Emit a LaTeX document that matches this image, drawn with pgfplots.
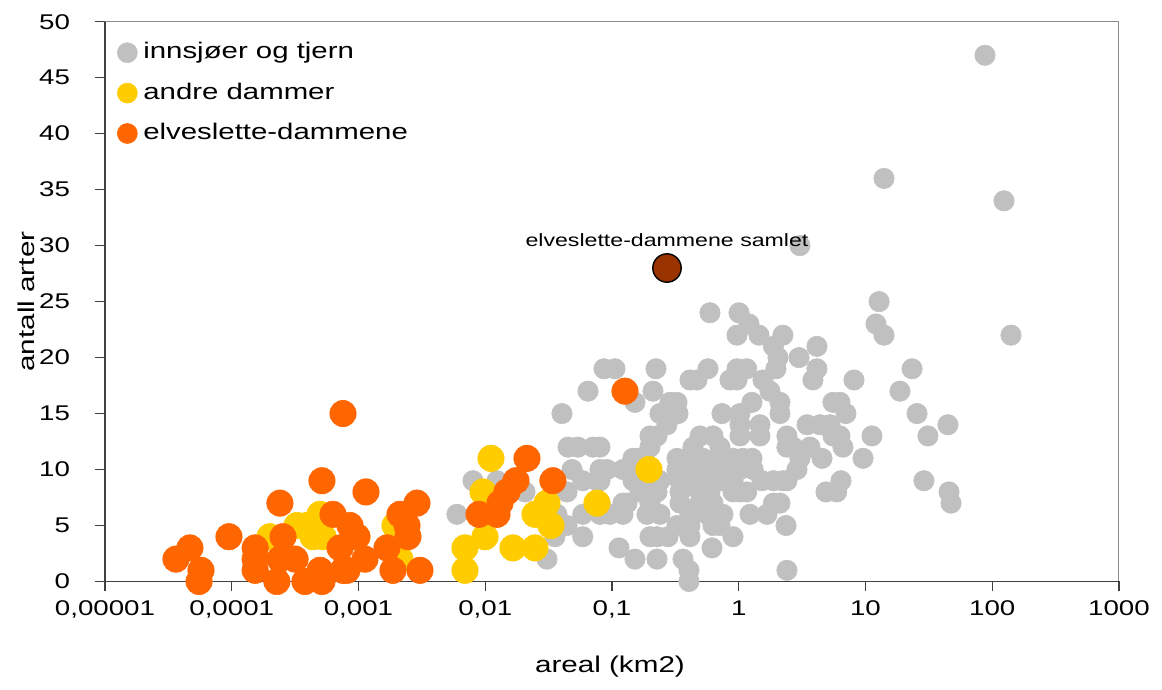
\documentclass[border=0pt]{standalone}
\usepackage{fontspec}
\setmainfont{Liberation Sans}[FakeStretch=1.3]
\usepackage{pgfplots}
\pgfplotsset{compat=1.18}
\definecolor{cgray}{HTML}{C0C0C0}
\definecolor{cyellow}{HTML}{FFCC00}
\definecolor{corange}{HTML}{FF6600}
\definecolor{cdred}{HTML}{993300}
\definecolor{axdark}{HTML}{404040}
\begin{document}
\begin{tikzpicture}
\begin{axis}[
  at={(0,0)}, anchor=south west,
  width=507pt, height=279.9pt, scale only axis,
  xmode=log, log basis x=10,
  xmin=1e-5, xmax=1000, ymin=0, ymax=50,
  xtick={1e-5,1e-4,1e-3,1e-2,1e-1,1,10,100,1000},
  xticklabels={{0,00001},{0,0001},{0,001},{0,01},{0,1},{1},{10},{100},{1000}},
  ytick={0,5,...,50},
  xminorticks=false, yminorticks=false,
  tick align=outside, major tick length=5pt,
  axis x line*=bottom, axis y line*=left,
  axis line style={axdark, line width=0.6pt},
  tick style={axdark, line width=0.6pt},
  clip=false,
  /pgf/number format/assume math mode=true,
  ticklabel style={font=\fontsize{10.65}{12}\selectfont},
  yticklabel style={xshift=-9pt},
  xticklabel style={yshift=-1pt},
  xlabel={areal (km2)}, ylabel={antall arter},
  xlabel style={at={(axis description cs:0.498,-0.152)}, anchor=center, font=\fontsize{11.4}{13}\selectfont},
  ylabel style={at={(axis description cs:-0.078,0.5)}, anchor=center, font=\fontsize{11.4}{13}\selectfont},
  legend cell align=left,
  legend image code/.code={\draw[#1, mark size=5pt] plot coordinates {(0pt,0pt)};},
  legend style={at={(axis description cs:0.0118,0.965)}, anchor=north west, draw=none, fill=none,
    inner sep=0pt, row sep=9.2pt,
    font=\fontsize{11.3}{13}\selectfont,
    nodes={inner xsep=3pt, inner ysep=0pt, text height=8.5pt, text depth=2.5pt},
    /tikz/every even column/.style={column sep=0pt}},
  after end axis/.code={\draw[black!45, line width=0.5pt] (rel axis cs:0,1) -- (rel axis cs:1,1) -- (rel axis cs:1,0);},
]
% innsjoer og tjern
\addplot[only marks, mark=*, mark size=5.1pt, mark options={draw=cgray, fill=cgray, line width=0.3pt}] coordinates {
(87.7,47) (14.0,36) (123.8,34) (140.6,22) (3.04,30) (12.8,25) (12.1,23) (14.0,22) (23.3,19) (18.7,17)
(25.5,15) (31.1,13) (44.7,14) (28.9,9) (45.6,8) (47.3,7) (8.11,18) (11.25,13) (9.56,11) (6.41,9)
(4.88,8) (5.93,8) (4.14,21) (2.99,20) (4.14,19) (3.85,18) (2.23,22) (5.54,16) (6.29,16) (7.01,15)
(3.46,14) (4.38,14) (5.25,14) (5.54,13) (6.64,12) (3.65,12) (4.54,11) (3.04,11) (2.88,10) (2.40,9)
(2.40,13) (2.40,12) (2.115,16) (2.115,15) (2.115,7) (2.36,5) (2.40,1) (6.29,13) (2.23,9) (2.69,12)
(0.593,24) (1.005,24) (1.204,23) (0.969,22) (1.445,22) (1.879,21) (2.04,20) (1.966,19) (1.554,18) (1.764,17)
(0.969,19) (1.156,19) (0.853,18) (0.969,18) (0.572,19) (0.4125,18) (0.468,18) (0.2224,19) (0.2106,17) (0.1518,16)
(0.0865,19) (0.1056,19) (0.3257,16) (0.2867,16) (0.239,15) (0.3317,15) (0.2716,14) (1.272,16) (0.7378,15) (1.023,15)
(1.023,14) (1.471,14) (1.471,13) (1.023,13) (0.495,13) (0.6265,13) (0.2265,13) (0.1994,12) (0.4355,12) (0.711,12)
(1.879,9) (1.526,9) (1.272,11) (1.080,11) (0.901,11) (1.023,10) (1.30,10) (0.901,9) (1.023,8) (1.156,8)
(1.879,7) (1.227,6) (1.67,6) (0.901,4) (0.6152,3) (0.405,1) (0.405,0) (0.3632,2) (0.2766,4) (0.2265,4)
(0.2265,2) (0.1518,2) (0.1136,3) (0.711,5) (0.7513,6) (0.5617,6) (0.6265,7) (0.495,7) (0.495,8) (0.593,8)
(0.593,9) (0.4355,9) (0.495,10) (0.593,10) (0.711,11) (0.5224,11) (0.3906,11) (0.3257,11) (0.3906,10) (0.3257,10)
(0.344,9) (0.344,8) (0.344,7) (0.4125,6) (0.4125,5) (0.3257,5) (0.239,6) (0.1888,6) (0.1994,7) (0.1662,8)
(0.2265,8) (0.239,9) (0.1756,9) (0.1464,9) (0.1464,10) (0.1221,10) (0.1756,11) (0.1464,11) (0.0913,10) (0.0804,9)
(0.1221,6) (0.0964,6) (0.1221,7) (0.0804,7) (0.0804,12) (0.901,8) (0.8079,10) (0.7513,9) (0.5617,9) (0.4125,4)
(0.6265,5) (0.0647,17) (0.0403,15) (0.045,12) (0.0539,12) (0.0708,12) (0.0484,10) (0.0804,10) (0.0588,9) (0.0761,9)
(0.0442,8) (0.0368,6) (0.0588,6) (0.0588,4) (0.0355,4) (0.0307,2) (0.1994,4) (0.1313,7) (0.1994,13) (0.1575,11)
(0.0080,9) (0.01238,9) (0.00598,6) (0.0206,8) (0.0442,5) (0.0804,6)
};
\addlegendentry{innsjøer og tjern}
% andre dammer
\addplot[only marks, mark=*, mark size=6.6pt, mark options={draw=cyellow, fill=cyellow, line width=0.3pt}] coordinates {
(2.00e-4,4) (3.27e-4,5) (3.92e-4,5) (4.97e-4,6) (5.25e-4,4) (4.375e-4,4) (9.72e-4,4) (1.94e-3,5) (2.125e-3,2)
(6.92e-3,3) (6.92e-3,1) (9.96e-3,4) (9.6e-3,8) (1.11e-2,11) (1.655e-2,3) (2.469e-2,3) (2.469e-2,6)
(3.07e-2,7) (3.30e-2,5) (7.61e-2,7) (0.1958,10)
};
\addlegendentry{andre dammer}
% elveslette-dammene
\addplot[only marks, mark=*, mark size=6.6pt, mark options={draw=corange, fill=corange, line width=0.3pt}] coordinates {
(3.63e-5,2) (4.68e-5,3) (5.72e-5,1) (5.52e-5,0) (9.51e-5,4) (2.40e-4,7) (1.53e-4,3) (1.53e-4,2) (1.53e-4,1)
(2.54e-4,4) (2.27e-4,0) (2.40e-4,2) (3.16e-4,2) (3.78e-4,0) (5.15e-4,9) (7.55e-4,15) (4.97e-4,1) (5.15e-4,0)
(6.29e-4,6) (8.57e-4,5) (9.72e-4,4) (7.15e-4,3) (1.125e-3,2) (8.11e-4,1) (7.55e-4,1) (1.146e-3,8)
(1.678e-3,3) (1.871e-3,1) (2.125e-3,6) (2.414e-3,5) (2.458e-3,4) (2.894e-3,7) (3.056e-3,1)
(8.93e-3,6) (1.238e-2,6) (1.307e-2,7) (1.484e-2,8) (1.748e-2,9) (2.135e-2,11) (3.42e-2,9) (0.1266,17)
};
\addlegendentry{elveslette-dammene}
% samlet
\addplot[only marks, mark=*, mark size=7.1pt, mark options={draw=black, fill=cdred, line width=0.7pt}, forget plot,
  nodes near coords={elveslette-dammene samlet},
  every node near coord/.style={anchor=base, yshift=11pt, text=black, font=\fontsize{8.9}{10}\selectfont}]
  coordinates {(0.2716,28)};
\end{axis}
\pgfresetboundingbox
\path[use as bounding box] (-52.5pt,-54.25pt) rectangle (528.5pt,290.75pt);
\end{tikzpicture}
\end{document}
